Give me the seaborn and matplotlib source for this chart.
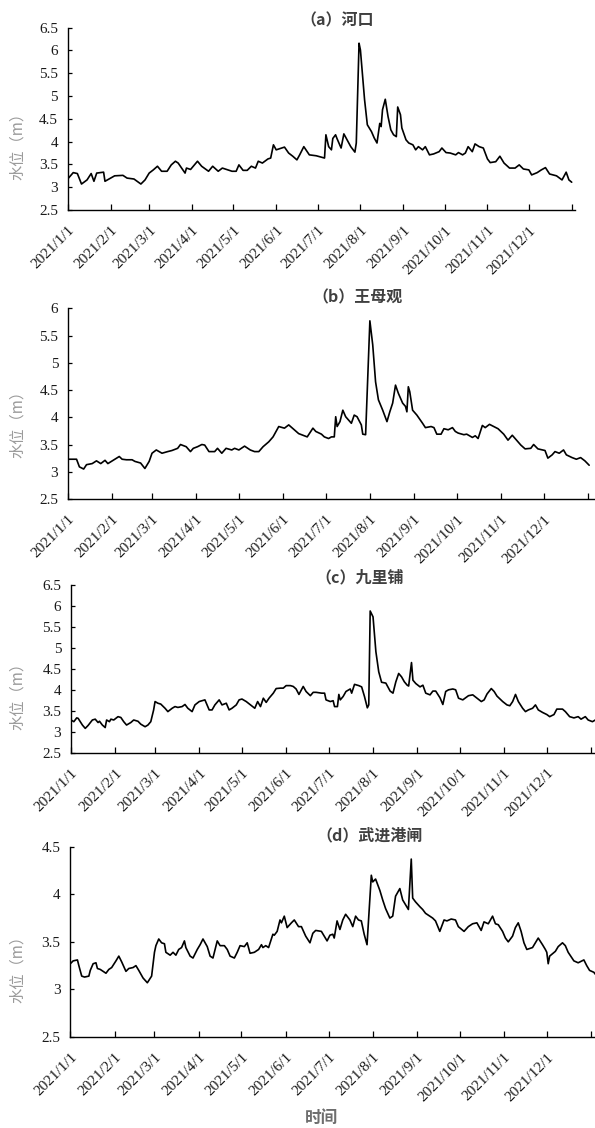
import numpy as np
import pandas as pd
import matplotlib
matplotlib.use("Agg")
import matplotlib.pyplot as plt
import matplotlib.transforms as mtransforms
import seaborn as sns

# ---------------------------------------------------------------------------
# Daily water level (m) at four stations, 2021. Day index = days after Jan 1.
# ---------------------------------------------------------------------------
hekou_day = [0, 4, 7, 10, 14, 17, 19, 21, 26, 27, 31, 34, 40, 43, 48, 53, 56, 59, 62, 65,
             68, 72, 75, 78, 80, 85, 86, 89, 94, 97, 102, 105, 109, 112, 119, 122, 124, 127,
             130, 133, 136, 138, 141, 145, 147, 149, 151, 157, 160, 163, 166, 168, 171, 175,
             180, 186, 187, 189, 191, 192, 194, 195, 198, 200, 203, 205, 208, 209, 211, 212,
             215, 217, 220, 222, 224, 226, 227, 228, 230, 232, 234, 236, 238, 239, 241, 242,
             245, 247, 250, 252, 254, 257, 259, 262, 265, 269, 271, 274, 277, 281, 283, 286,
             288, 290, 293, 295, 298, 301, 304, 306, 310, 313, 316, 320, 324, 327, 330, 334,
             336, 340, 343, 346, 349, 354, 358, 361, 363, 365]
hekou_level = [3.18, 3.32, 3.30, 3.07, 3.16, 3.30, 3.13, 3.31, 3.33, 3.13, 3.20, 3.25, 3.26,
               3.20, 3.18, 3.07, 3.16, 3.31, 3.38, 3.46, 3.35, 3.35, 3.49, 3.57, 3.53, 3.31,
               3.42, 3.39, 3.57, 3.46, 3.35, 3.46, 3.35, 3.42, 3.35, 3.35, 3.49, 3.37, 3.37,
               3.46, 3.42, 3.57, 3.53, 3.62, 3.64, 3.93, 3.82, 3.88, 3.75, 3.68, 3.60, 3.71,
               3.89, 3.71, 3.69, 3.64, 4.15, 3.89, 3.82, 4.07, 4.15, 4.07, 3.86, 4.17, 4.00,
               3.89, 3.77, 3.97, 6.16, 6.01, 4.92, 4.37, 4.22, 4.08, 3.97, 4.40, 4.33, 4.70,
               4.93, 4.55, 4.26, 4.15, 4.11, 4.76, 4.59, 4.30, 4.04, 3.97, 3.93, 3.82, 3.89,
               3.82, 3.89, 3.71, 3.73, 3.78, 3.86, 3.76, 3.75, 3.71, 3.76, 3.71, 3.75, 3.89,
               3.78, 3.95, 3.89, 3.86, 3.62, 3.54, 3.56, 3.68, 3.53, 3.42, 3.42, 3.49, 3.40,
               3.38, 3.27, 3.32, 3.38, 3.43, 3.29, 3.25, 3.16, 3.33, 3.16, 3.11]

wangmuguan_day = [0, 6, 8, 11, 13, 17, 20, 23, 26, 28, 33, 36, 38, 41, 45, 47, 51, 54, 57, 59,
                  62, 64, 66, 70, 73, 77, 79, 83, 86, 88, 91, 94, 96, 99, 103, 105, 108, 111,
                  115, 117, 120, 124, 128, 131, 134, 137, 141, 144, 148, 152, 155, 159, 162,
                  166, 168, 172, 174, 178, 180, 183, 185, 187, 188, 189, 191, 193, 195, 199,
                  201, 203, 206, 207, 209, 212, 214, 216, 218, 221, 224, 226, 228, 230, 232,
                  235, 237, 238, 239, 240, 242, 245, 249, 251, 255, 257, 259, 262, 264, 267,
                  270, 272, 274, 278, 280, 284, 286, 288, 291, 293, 296, 299, 302, 306, 309,
                  312, 315, 318, 321, 325, 327, 330, 335, 337, 340, 342, 345, 348, 350, 354,
                  357, 360, 363, 366]
wangmuguan_level = [3.23, 3.23, 3.09, 3.05, 3.13, 3.15, 3.20, 3.15, 3.21, 3.15, 3.23, 3.28,
                    3.23, 3.22, 3.22, 3.19, 3.16, 3.06, 3.19, 3.34, 3.40, 3.37, 3.34, 3.37,
                    3.39, 3.43, 3.50, 3.46, 3.37, 3.43, 3.46, 3.50, 3.49, 3.37, 3.37, 3.43,
                    3.34, 3.43, 3.40, 3.43, 3.40, 3.47, 3.40, 3.37, 3.37, 3.46, 3.55, 3.64,
                    3.83, 3.80, 3.86, 3.77, 3.70, 3.66, 3.64, 3.80, 3.74, 3.69, 3.64, 3.61,
                    3.64, 3.64, 4.01, 3.83, 3.92, 4.13, 4.01, 3.89, 4.04, 4.01, 3.86, 3.69,
                    3.68, 5.77, 5.33, 4.65, 4.32, 4.13, 3.92, 4.10, 4.26, 4.59, 4.44, 4.26,
                    4.20, 4.10, 4.56, 4.47, 4.13, 4.04, 3.89, 3.81, 3.83, 3.81, 3.69, 3.69,
                    3.79, 3.77, 3.81, 3.74, 3.71, 3.68, 3.69, 3.63, 3.66, 3.61, 3.85, 3.81,
                    3.87, 3.83, 3.79, 3.69, 3.58, 3.67, 3.58, 3.49, 3.42, 3.43, 3.50, 3.42,
                    3.39, 3.25, 3.31, 3.37, 3.34, 3.40, 3.31, 3.26, 3.23, 3.26, 3.20, 3.12]

jiulipu_day = [0, 2, 4, 5, 8, 10, 12, 15, 17, 19, 20, 22, 24, 25, 27, 28, 30, 33, 35, 37, 39,
               42, 44, 47, 49, 52, 54, 56, 58, 59, 61, 63, 66, 68, 71, 73, 75, 78, 80, 82, 85,
               87, 90, 92, 94, 97, 99, 101, 104, 106, 109, 111, 113, 116, 118, 120, 123, 126,
               129, 131, 133, 135, 137, 139, 142, 144, 147, 149, 151, 154, 156, 158, 160, 163,
               165, 168, 170, 172, 176, 178, 179, 182, 184, 185, 187, 188, 189, 191, 193, 196,
               197, 199, 202, 204, 206, 208, 209, 210, 212, 214, 216, 218, 221, 224, 226, 228,
               230, 232, 234, 236, 237, 239, 240, 242, 245, 247, 249, 252, 254, 256, 259, 261,
               263, 265, 268, 270, 272, 275, 277, 279, 282, 285, 288, 290, 292, 295, 297, 299,
               303, 306, 308, 310, 312, 314, 317, 319, 321, 324, 326, 328, 331, 334, 336, 339,
               341, 345, 347, 350, 353, 356, 358, 361, 363, 366, 368]
jiulipu_level = [3.28, 3.24, 3.33, 3.32, 3.16, 3.08, 3.15, 3.28, 3.30, 3.22, 3.25, 3.16, 3.10,
                 3.28, 3.24, 3.30, 3.28, 3.36, 3.34, 3.24, 3.16, 3.22, 3.28, 3.25, 3.18, 3.12,
                 3.16, 3.24, 3.52, 3.72, 3.68, 3.66, 3.56, 3.48, 3.56, 3.60, 3.58, 3.60, 3.65,
                 3.56, 3.48, 3.64, 3.72, 3.74, 3.76, 3.52, 3.52, 3.64, 3.76, 3.64, 3.68, 3.52,
                 3.56, 3.64, 3.76, 3.78, 3.72, 3.64, 3.56, 3.72, 3.60, 3.80, 3.70, 3.80, 3.92,
                 4.03, 4.04, 4.04, 4.10, 4.10, 4.08, 4.02, 3.89, 4.08, 3.96, 3.86, 3.94, 3.94,
                 3.92, 3.92, 3.76, 3.72, 3.74, 3.60, 3.60, 3.89, 3.76, 3.84, 3.96, 4.02, 3.92,
                 4.13, 4.10, 4.07, 3.84, 3.57, 3.64, 5.88, 5.74, 4.91, 4.43, 4.18, 4.16, 3.97,
                 3.92, 4.19, 4.39, 4.31, 4.19, 4.11, 4.09, 4.65, 4.23, 4.15, 4.07, 4.11, 3.92,
                 3.88, 3.97, 3.97, 3.81, 3.65, 3.96, 4.00, 4.02, 4.00, 3.80, 3.76, 3.81, 3.86,
                 3.88, 3.80, 3.72, 3.76, 3.90, 4.03, 3.96, 3.85, 3.72, 3.64, 3.62, 3.72, 3.89,
                 3.72, 3.56, 3.48, 3.52, 3.56, 3.64, 3.52, 3.46, 3.41, 3.36, 3.41, 3.54, 3.54,
                 3.48, 3.36, 3.33, 3.36, 3.30, 3.36, 3.28, 3.24, 3.28]

wujingang_day = [0, 2, 5, 6, 8, 10, 13, 14, 16, 18, 19, 21, 23, 25, 27, 29, 32, 34, 36, 39, 41,
                 44, 46, 48, 51, 54, 57, 59, 60, 62, 64, 66, 67, 70, 72, 74, 76, 78, 80, 81, 84,
                 86, 89, 91, 93, 96, 98, 100, 103, 105, 108, 110, 112, 115, 117, 119, 122, 124,
                 126, 129, 132, 134, 135, 137, 139, 142, 143, 145, 147, 148, 150, 152, 155, 157,
                 160, 162, 165, 168, 170, 172, 176, 178, 180, 182, 184, 185, 187, 189, 191, 193,
                 196, 198, 200, 202, 204, 206, 208, 211, 212, 214, 217, 219, 221, 224, 226, 228,
                 231, 233, 235, 237, 239, 240, 242, 245, 247, 249, 252, 254, 256, 259, 262, 264,
                 267, 270, 272, 276, 279, 282, 285, 288, 290, 293, 296, 298, 300, 303, 305, 307,
                 310, 312, 314, 316, 318, 320, 324, 326, 328, 331, 333, 334, 335, 336, 340, 342,
                 345, 347, 349, 353, 356, 360, 362, 364, 367, 368]
wujingang_level = [3.27, 3.30, 3.31, 3.25, 3.14, 3.13, 3.14, 3.20, 3.27, 3.28, 3.22, 3.21,
                   3.19, 3.17, 3.21, 3.23, 3.30, 3.35, 3.29, 3.19, 3.22, 3.23, 3.25, 3.20,
                   3.12, 3.07, 3.14, 3.39, 3.46, 3.53, 3.49, 3.48, 3.39, 3.36, 3.39, 3.36,
                   3.42, 3.44, 3.51, 3.44, 3.35, 3.33, 3.42, 3.47, 3.53, 3.45, 3.35, 3.33,
                   3.51, 3.46, 3.46, 3.42, 3.35, 3.33, 3.39, 3.46, 3.45, 3.49, 3.38, 3.39,
                   3.42, 3.47, 3.44, 3.46, 3.44, 3.58, 3.57, 3.61, 3.73, 3.70, 3.77, 3.65,
                   3.70, 3.73, 3.66, 3.66, 3.56, 3.49, 3.59, 3.62, 3.61, 3.56, 3.51, 3.57,
                   3.58, 3.54, 3.72, 3.63, 3.73, 3.79, 3.73, 3.66, 3.77, 3.73, 3.72, 3.58,
                   3.47, 4.20, 4.13, 4.16, 4.04, 3.94, 3.85, 3.75, 3.77, 3.98, 4.06, 3.94,
                   3.89, 3.84, 4.37, 3.96, 3.92, 3.87, 3.84, 3.80, 3.77, 3.75, 3.72, 3.61,
                   3.73, 3.72, 3.74, 3.73, 3.66, 3.61, 3.66, 3.69, 3.70, 3.62, 3.71, 3.69,
                   3.77, 3.69, 3.68, 3.61, 3.54, 3.50, 3.56, 3.65, 3.70, 3.61, 3.49, 3.42,
                   3.44, 3.49, 3.54, 3.47, 3.42, 3.39, 3.27, 3.35, 3.40, 3.45, 3.49, 3.46,
                   3.39, 3.30, 3.28, 3.31, 3.25, 3.20, 3.18, 3.16]

panel_titles = ["（a）河口", "（b）王母观", "（c）九里铺", "（d）武进港闸"]
month_labels = ["2021/1/1", "2021/2/1", "2021/3/1", "2021/4/1", "2021/5/1", "2021/6/1",
                "2021/7/1", "2021/8/1", "2021/9/1", "2021/10/1", "2021/11/1", "2021/12/1", ""]
y_label = "水位（m）"
x_label = "时间"

# ---------------------------------------------------------------------------
sns.set_theme(style="ticks")
CJK = ["Noto Sans CJK SC", "DejaVu Sans"]
SERIF = ["Liberation Serif", "DejaVu Serif"]
# numbers on the axes use a Times-like serif; Chinese text names its own family
plt.rcParams["font.family"] = SERIF + ["Noto Sans CJK SC"]

W, H = 595, 1128
fig = plt.figure(figsize=(W / 100, H / 100), dpi=100, facecolor="white")

start = pd.Timestamp("2021-01-01")
month_ticks = pd.date_range("2021-01-01", "2022-01-01", freq="MS")


def axes_px(left, right, top, bottom):
    return fig.add_axes([left / W, 1 - bottom / H, (right - left) / W, (bottom - top) / H])


# (left, right, top, bottom) in pixels, y range, x extent in days, title pos, ylabel y
layout = [
    dict(box=(67.7, 575, 27.7, 210), ylim=(2.5, 6.5), xdays=367.4, title=(337, 20), ylab=142),
    dict(box=(68, 595, 308.3, 499), ylim=(2.5, 6.0), xdays=370.1, title=(358, 297), ylab=420),
    dict(box=(71, 595, 585, 752.7), ylim=(2.5, 6.5), xdays=367.8, title=(360, 577), ylab=692),
    dict(box=(70.3, 595, 846.7, 1037), ylim=(2.5, 4.5), xdays=367.8, title=(370, 835), ylab=965),
]
series = [(hekou_day, hekou_level), (wangmuguan_day, wangmuguan_level),
          (jiulipu_day, jiulipu_level), (wujingang_day, wujingang_level)]

shift_right = mtransforms.ScaledTranslation(3 / 100, 0, fig.dpi_scale_trans)

for spec, (days, level), title in zip(layout, series, panel_titles):
    ax = axes_px(*spec["box"])
    df = pd.DataFrame({"date": start + pd.to_timedelta(days, unit="D"), "level": level})
    sns.lineplot(data=df, x="date", y="level", ax=ax, color="black", linewidth=1.2)

    ax.set_facecolor("white")
    ax.set_xlim(start, start + pd.Timedelta(days=spec["xdays"]))
    lo, hi = spec["ylim"]
    ax.set_ylim(lo, hi)
    yt = np.arange(lo, hi + 0.01, 0.5)
    ax.set_yticks(yt, [f"{v:g}" for v in yt], fontsize=11, color="#1a1a1a")
    ax.set_xticks(month_ticks, month_labels, fontsize=11, color="#1a1a1a", rotation=45,
                  ha="right", va="top", rotation_mode="anchor")
    for lbl in ax.get_xticklabels():
        lbl.set_transform(lbl.get_transform() + shift_right)
    ax.set_xlabel("")
    ax.set_ylabel("")

    for side in ("top", "right"):
        ax.spines[side].set_visible(False)
    for side in ("left", "bottom"):
        ax.spines[side].set_color("black")
        ax.spines[side].set_linewidth(1.0)

    ax.tick_params(axis="x", direction="in", length=4.5, width=0.9, color="black", pad=10)
    ax.tick_params(axis="y", direction="in", length=3, width=0.9, color="black", pad=7)

    tx, ty = spec["title"]
    fig.text(tx / W, 1 - ty / H, title, ha="center", va="center", fontsize=11.5,
             fontweight="bold", color="#404040", family=CJK)
    fig.text(17 / W, 1 - spec["ylab"] / H, y_label, ha="center", va="center", rotation=90,
             fontsize=11, color="#9a9a9a", family=CJK)

fig.text(321 / W, 1 - 1118 / H, x_label, ha="center", va="center", fontsize=12,
         fontweight="bold", color="#6e6e6e", family=CJK)

fig.savefig("out.png", dpi=100, facecolor="white")
